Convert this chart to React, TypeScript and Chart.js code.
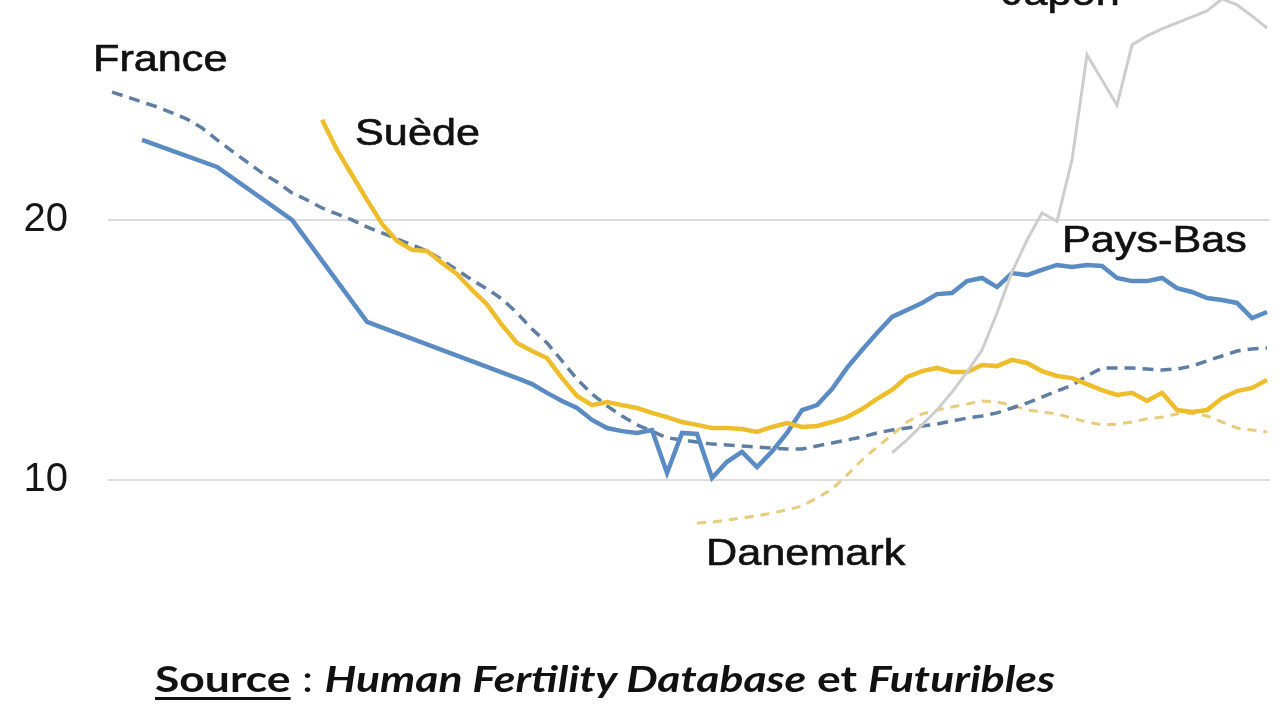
import React, { useEffect, useLayoutEffect, useRef } from "react";
import { Chart, registerables } from "chart.js";

Chart.register(...registerables);

// Years (x categories)
const years = [
  1943, 1944, 1945, 1946, 1947, 1948, 1949, 1950, 1951, 1952,
  1953, 1954, 1955, 1956, 1957, 1958, 1959, 1960, 1961, 1962,
  1963, 1964, 1965, 1966, 1967, 1968, 1969, 1970, 1971, 1972,
  1973, 1974, 1975, 1976, 1977, 1978, 1979, 1980, 1981, 1982,
  1983, 1984, 1985, 1986, 1987, 1988, 1989, 1990, 1991, 1992,
  1993, 1994, 1995, 1996, 1997, 1998, 1999, 2000, 2001, 2002,
  2003, 2004, 2005, 2006, 2007, 2008, 2009, 2010, 2011, 2012,
  2013, 2014, 2015, 2016, 2017, 2018, 2019, 2020,
];

const france = [
  24.92, 24.73, 24.54, 24.35, 24.12, 23.88, 23.54, 23.08, 22.65, 22.23,
  21.81, 21.46, 21.04, 20.77, 20.46, 20.23, 20.0, 19.73, 19.5, 19.27,
  19.04, 18.81, 18.46, 18.08, 17.69, 17.35, 16.96, 16.42, 15.81, 15.27,
  14.58, 13.88, 13.31, 12.85, 12.46, 12.12, 11.88, 11.62, 11.54, 11.46,
  11.38, 11.35, 11.31, 11.27, 11.23, 11.19, 11.19, 11.31, 11.42, 11.54,
  11.65, 11.81, 11.92, 12.0, 12.08, 12.15, 12.27, 12.38, 12.46, 12.58,
  12.77, 12.96, 13.19, 13.42, 13.65, 14.0, 14.31, 14.31, 14.31, 14.27,
  14.23, 14.27, 14.38, 14.58, 14.77, 14.96, 15.04, 15.08,
];

const paysBas = [
  null, null, 23.08, null, null, null, null, 22.04, null, null,
  null, null, 20.0, null, null, null, null, 16.08, null, null,
  null, null, null, null, null, null, null, 13.92, 13.69, 13.35,
  13.04, 12.77, 12.31, 12.0, 11.88, 11.81, 11.92, 10.27, 11.81, 11.77,
  10.08, 10.7, 11.08, 10.5, 11.1, 11.81, 12.69, 12.88, 13.5, 14.31,
  15.0, 15.65, 16.27, 16.54, 16.81, 17.15, 17.19, 17.65, 17.77, 17.42,
  17.96, 17.88, 18.08, 18.27, 18.19, 18.27, 18.23, 17.77, 17.65, 17.65,
  17.77, 17.38, 17.23, 17.0, 16.92, 16.81, 16.23, 16.46,
];

const suede = [
  null, null, null, null, null, null, null, null, null, null,
  null, null, null, null, 23.85, 22.69, 21.73, 20.77, 19.85, 19.19,
  18.85, 18.81, 18.35, 17.92, 17.31, 16.75, 15.96, 15.27, 14.96, 14.69,
  13.92, 13.23, 12.88, 13.0, 12.88, 12.77, 12.58, 12.42, 12.23, 12.12,
  12.0, 12.0, 11.96, 11.85, 12.04, 12.19, 12.04, 12.08, 12.23, 12.42,
  12.73, 13.12, 13.46, 13.96, 14.19, 14.31, 14.15, 14.15, 14.42, 14.38,
  14.62, 14.5, 14.19, 14.0, 13.92, 13.69, 13.46, 13.27, 13.35, 13.04,
  13.35, 12.69, 12.62, 12.69, 13.15, 13.42, 13.54, 13.85,
];

const danemark = [
  null, null, null, null, null, null, null, null, null, null,
  null, null, null, null, null, null, null, null, null, null,
  null, null, null, null, null, null, null, null, null, null,
  null, null, null, null, null, null, null, null, null, 8.35,
  8.38, 8.46, 8.54, 8.62, 8.73, 8.85, 9.0, 9.31, 9.65, 10.19,
  10.77, 11.27, 11.73, 12.23, 12.54, 12.69, 12.81, 12.92, 13.04, 13.0,
  12.88, 12.69, 12.62, 12.54, 12.38, 12.23, 12.12, 12.15, 12.23, 12.35,
  12.42, 12.54, 12.58, 12.46, 12.23, 12.0, 11.92, 11.85,
];

const japon = [
  null, null, null, null, null, null, null, null, null, null,
  null, null, null, null, null, null, null, null, null, null,
  null, null, null, null, null, null, null, null, null, null,
  null, null, null, null, null, null, null, null, null, null,
  null, null, null, null, null, null, null, null, null, null,
  null, null, 11.04, 11.54, 12.12, 12.69, 13.38, 14.15, 15.0, 16.42,
  18.0, 19.23, 20.27, 19.95, 22.31, 26.35, 25.38, 24.42, 26.73, 27.08,
  27.35, 27.58, 27.81, 28.04, 28.5, 28.27, 27.85, 27.38,
];

const yTicks = [10, 20];

// Series name labels, anchored in data units (year, value)
const labelNames = ["France", "Suède", "Pays-Bas", "Danemark", "Japon"];
const labelYears = [1941.73, 1959.2, 2006.33, 1982.6, 2002.33];
const labelValues = [25.73, 22.88, 18.77, 6.73, 28.27];

const sourceLabel = "Source";
const sourceRest1 = "Human Fertility Database";
const sourceRest2 = "Futuribles";

const seriesLabelPlugin = {
  id: "seriesLabels",
  afterDatasetsDraw(chart: any) {
    const { ctx, scales } = chart;
    const xs = scales.x;
    const ys = scales.y;
    ctx.save();
    ctx.font = '36px "Liberation Sans", Arial, sans-serif';
    ctx.fillStyle = "#111111";
    ctx.strokeStyle = "#111111";
    ctx.lineWidth = 0.6;
    ctx.textBaseline = "alphabetic";
    ctx.textAlign = "left";
    for (let i = 0; i < labelNames.length; i++) {
      const px = xs.getPixelForValue(labelYears[i]);
      const py = ys.getPixelForValue(labelValues[i]);
      ctx.save();
      ctx.translate(px, py);
      ctx.scale(1.2, 1);
      ctx.fillText(labelNames[i], 0, 0);
      ctx.strokeText(labelNames[i], 0, 0);
      ctx.restore();
    }
    ctx.restore();
  },
};

export default function App() {
  const canvasRef = useRef<HTMLCanvasElement | null>(null);
  const srcRef = useRef<HTMLSpanElement | null>(null);

  useLayoutEffect(() => {
    const el = srcRef.current;
    if (el) {
      el.style.transform = "none";
      const w = el.getBoundingClientRect().width;
      if (w > 0) el.style.transform = `scaleX(${900 / w})`;
    }
  }, []);

  useEffect(() => {
    if (!canvasRef.current) return;
    const chart = new Chart(canvasRef.current, {
      type: "line",
      data: {
        labels: years,
        datasets: [
          {
            label: "Japon",
            data: japon,
            borderColor: "#cdcdcd",
            borderWidth: 3,
          },
          {
            label: "Suède",
            data: suede,
            borderColor: "#eebd2c",
            borderWidth: 4.5,
          },
          {
            label: "Pays-Bas",
            data: paysBas,
            borderColor: "#5a8bc3",
            borderWidth: 4.5,
          },
          {
            label: "France",
            data: france,
            borderColor: "#5f7ea3",
            borderWidth: 3.5,
            borderDash: [11, 7],
          },
          {
            label: "Danemark",
            data: danemark,
            borderColor: "#e6cc7c",
            borderWidth: 3,
            borderDash: [9, 7],
          },
        ] as any,
      },
      options: {
        animation: false,
        responsive: false,
        maintainAspectRatio: false,
        devicePixelRatio: 1,
        spanGaps: true,
        layout: { padding: { left: 0, right: 10, top: 0, bottom: 0 } },
        elements: {
          point: { radius: 0, hoverRadius: 0 },
          line: { tension: 0, fill: false },
        },
        plugins: {
          legend: { display: false },
          tooltip: { enabled: false },
        },
        scales: {
          x: {
            type: "linear",
            min: 1942.73,
            max: 2020.2,
            display: false,
          },
          y: {
            type: "linear",
            min: 0.77,
            max: 28.46,
            afterBuildTicks: (s: any) => {
              s.ticks = yTicks.map((v) => ({ value: v }));
            },
            afterFit: (s: any) => {
              s.width = 108;
              s.paddingTop = 0;
              s.paddingBottom = 0;
            },
            border: { display: false },
            grid: { color: "#dcdcdc", lineWidth: 2, drawTicks: false },
            ticks: {
              padding: 40,
              color: "#151515",
              font: { family: '"Liberation Sans", Arial, sans-serif', size: 40 },
            },
          },
        },
      } as any,
      plugins: [seriesLabelPlugin],
    });
    return () => chart.destroy();
  }, []);

  return (
    <div
      style={{
        position: "fixed",
        left: 0,
        top: 0,
        width: 1280,
        height: 720,
        background: "#ffffff",
        overflow: "hidden",
      }}
    >
      <canvas
        ref={canvasRef}
        width={1280}
        height={720}
        style={{ display: "block", width: 1280, height: 720 }}
      />
      <div
        style={{
          position: "absolute",
          left: 155,
          top: 659,
          whiteSpace: "nowrap",
          fontFamily: "Lato, 'Open Sans', sans-serif",
          fontSize: 37,
          lineHeight: "37px",
          color: "#111",
        }}
      >
        <span
          ref={srcRef}
          style={{ display: "inline-block", transformOrigin: "0 0" }}
        >
          <span
            style={{
              fontWeight: 700,
              textDecoration: "underline",
              textDecorationThickness: "3px",
              textUnderlineOffset: "5px",
            }}
          >
            {sourceLabel}
          </span>
          <span style={{ fontWeight: 400 }}> : </span>
          <span style={{ fontWeight: 700, fontStyle: "italic" }}>{sourceRest1}</span>
          <span style={{ fontWeight: 700 }}> et </span>
          <span style={{ fontWeight: 700, fontStyle: "italic" }}>{sourceRest2}</span>
        </span>
      </div>
    </div>
  );
}
